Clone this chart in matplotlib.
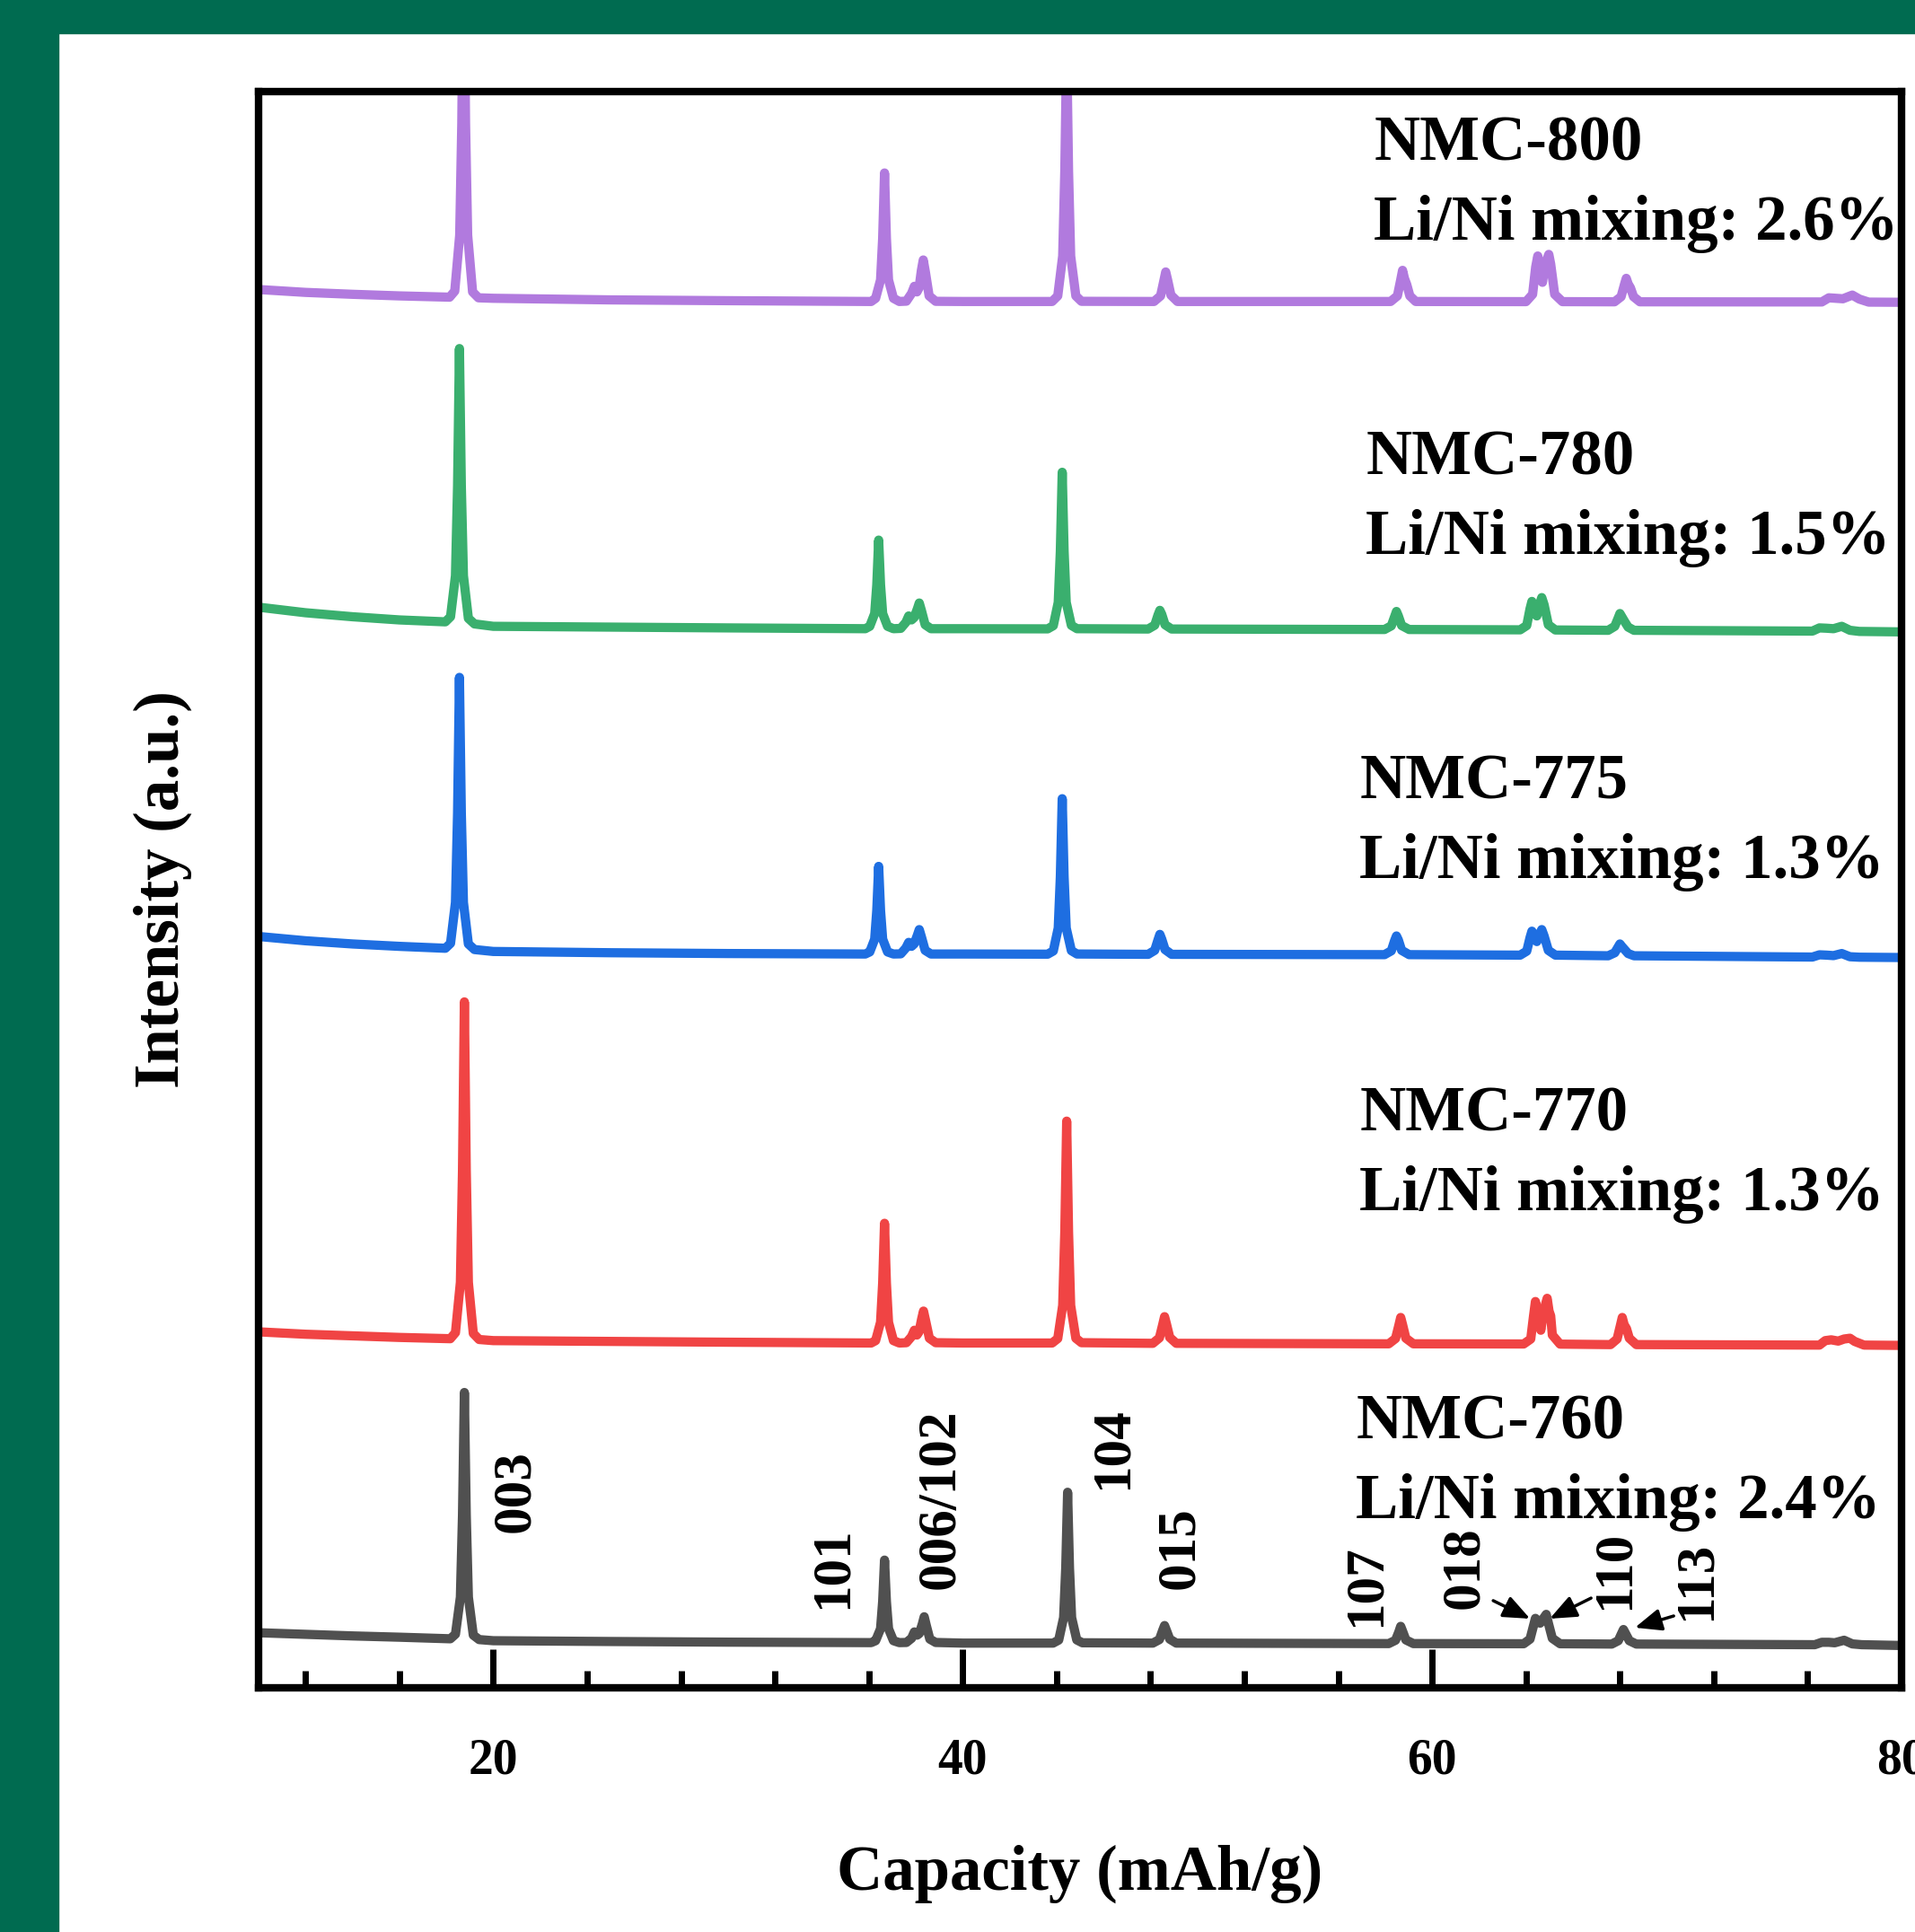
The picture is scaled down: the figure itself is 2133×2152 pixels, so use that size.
import numpy as np
import matplotlib.pyplot as plt
from matplotlib.patches import Rectangle
from matplotlib.ticker import MultipleLocator

plt.rcParams['font.family'] = ['Liberation Serif', 'DejaVu Serif']
plt.rcParams['font.weight'] = 'bold'

# traces: (2theta, offset intensity in a.u.)
nmc760 = [(10.0, 3.45), (12.0, 3.35), (14.0, 3.25), (16.0, 3.17), (18.17, 3.07), (18.39, 3.36), (18.60, 5.68),
          (18.69, 10.8), (18.77, 18.5), (18.85, 10.8), (18.94, 5.68), (19.15, 3.30), (19.4, 3.02), (20.0, 2.95),
          (25.0, 2.9), (30.0, 2.86), (36.1, 2.83), (36.29, 2.95), (36.5, 3.7), (36.59, 5.4), (36.67, 8.0),
          (36.75, 5.4), (36.84, 3.7), (37.05, 2.95), (37.3, 2.83), (37.6, 2.84), (37.82, 3.1), (37.94, 3.5),
          (38.06, 3.3), (38.15, 3.4), (38.28, 4.0), (38.36, 4.45), (38.45, 3.9), (38.6, 3.05), (38.85, 2.84),
          (40.0, 2.8), (43.85, 2.8), (44.09, 2.99), (44.3, 4.4), (44.39, 7.5), (44.47, 12.25), (44.55, 7.5),
          (44.64, 4.4), (44.86, 3.0), (45.1, 2.82), (48.1, 2.8), (48.38, 3.02), (48.52, 3.6), (48.6, 3.9),
          (48.68, 3.6), (48.82, 3.05), (49.1, 2.8), (58.15, 2.77), (58.44, 2.98), (58.58, 3.5), (58.66, 3.85),
          (58.74, 3.55), (58.88, 3.0), (59.2, 2.77), (63.9, 2.76), (64.17, 3.05), (64.32, 3.9), (64.4, 4.35),
          (64.6, 4.05), (64.86, 4.6), (64.96, 4.0), (65.12, 3.1), (65.45, 2.76), (67.65, 2.74), (67.93, 2.95),
          (68.07, 3.4), (68.15, 3.65), (68.24, 3.4), (68.4, 2.95), (68.7, 2.74), (76.3, 2.7), (76.6, 2.85),
          (76.9, 2.85), (77.15, 2.82), (77.55, 2.98), (77.9, 2.75), (78.3, 2.7), (80.0, 2.65)]

nmc770 = [(10.0, 22.3), (12.0, 22.15), (14.0, 22.05), (16.0, 21.95), (18.17, 21.87), (18.39, 22.25), (18.60, 25.4),
          (18.69, 32.4), (18.77, 42.97), (18.85, 32.4), (18.94, 25.4), (19.15, 22.2), (19.4, 21.82), (20.0, 21.75),
          (25.0, 21.7), (30.0, 21.65), (36.1, 21.6), (36.29, 21.75), (36.5, 22.9), (36.59, 25.35), (36.67, 29.1),
          (36.75, 25.35), (36.84, 22.9), (37.05, 21.75), (37.3, 21.6), (37.6, 21.62), (37.82, 22.0), (37.94, 22.4),
          (38.05, 22.1), (38.14, 22.3), (38.25, 23.1), (38.33, 23.6), (38.42, 23.0), (38.58, 21.9), (38.85, 21.62),
          (40.0, 21.6), (43.81, 21.6), (44.05, 21.88), (44.26, 23.96), (44.35, 28.55), (44.43, 35.5), (44.51, 28.55),
          (44.6, 23.96), (44.82, 21.9), (45.06, 21.62), (48.1, 21.58), (48.38, 21.92), (48.52, 22.75), (48.6, 23.25),
          (48.68, 22.8), (48.82, 21.95), (49.1, 21.58), (58.15, 21.55), (58.44, 21.88), (58.58, 22.7), (58.66, 23.2),
          (58.74, 22.75), (58.88, 21.9), (59.2, 21.55), (63.9, 21.54), (64.2, 21.85), (64.32, 23.3), (64.4, 24.2),
          (64.5, 23.5), (64.63, 22.4), (64.75, 23.6), (64.9, 24.4), (64.98, 23.6), (65.05, 23.3), (65.12, 22.1),
          (65.45, 21.53), (67.6, 21.5), (67.88, 21.85), (68.02, 22.7), (68.1, 23.2), (68.18, 22.75), (68.28, 22.5),
          (68.4, 21.9), (68.7, 21.5), (76.5, 21.47), (76.75, 21.75), (77.0, 21.8), (77.3, 21.72), (77.55, 21.85),
          (77.8, 21.9), (78.0, 21.7), (78.4, 21.47), (80.0, 21.45)]

nmc775 = [(10.0, 47.07), (12.0, 46.8), (14.0, 46.6), (16.0, 46.45), (17.96, 46.33), (18.18, 46.64), (18.39, 49.2),
          (18.48, 54.8), (18.56, 63.3), (18.64, 54.8), (18.73, 49.2), (18.94, 46.6), (19.2, 46.25), (20.0, 46.13),
          (25.0, 46.05), (30.0, 46.0), (35.85, 45.97), (36.04, 46.1), (36.25, 46.9), (36.34, 48.7), (36.42, 51.46),
          (36.5, 48.7), (36.59, 46.9), (36.8, 46.1), (37.05, 45.97), (37.36, 45.98), (37.58, 46.35), (37.7, 46.7),
          (37.82, 46.45), (37.93, 46.6), (38.07, 47.15), (38.15, 47.5), (38.24, 47.05), (38.4, 46.2), (38.65, 45.97),
          (40.0, 45.97), (43.62, 45.96), (43.86, 46.16), (44.07, 47.6), (44.16, 50.8), (44.24, 55.7), (44.32, 50.8),
          (44.41, 47.6), (44.63, 46.18), (44.87, 45.97), (47.9, 45.95), (48.18, 46.2), (48.32, 46.85), (48.4, 47.2),
          (48.48, 46.9), (48.62, 46.25), (48.9, 45.95), (57.97, 45.93), (58.26, 46.17), (58.4, 46.8), (58.48, 47.1),
          (58.56, 46.85), (58.7, 46.2), (59.02, 45.93), (63.75, 45.9), (64.03, 46.15), (64.17, 47.0), (64.25, 47.4),
          (64.36, 47.1), (64.46, 46.75), (64.57, 47.2), (64.67, 47.5), (64.77, 47.1), (64.95, 46.2), (65.25, 45.9),
          (67.5, 45.86), (67.78, 46.05), (67.92, 46.4), (68.0, 46.6), (68.08, 46.45), (68.2, 46.25), (68.35, 46.0),
          (68.6, 45.86), (76.2, 45.78), (76.5, 45.92), (76.8, 45.9), (77.1, 45.87), (77.45, 46.0), (77.8, 45.8),
          (78.2, 45.77), (80.0, 45.75)]

nmc780 = [(10.0, 67.7), (12.0, 67.35), (14.0, 67.1), (16.0, 66.9), (17.96, 66.78), (18.18, 67.1), (18.39, 69.67),
          (18.48, 75.3), (18.56, 83.9), (18.64, 75.3), (18.73, 69.67), (18.94, 67.0), (19.2, 66.65), (20.0, 66.5),
          (25.0, 66.45), (30.0, 66.4), (35.85, 66.35), (36.04, 66.5), (36.25, 67.3), (36.34, 69.1), (36.42, 71.9),
          (36.5, 69.1), (36.59, 67.3), (36.8, 66.5), (37.05, 66.35), (37.36, 66.37), (37.58, 66.75), (37.7, 67.15),
          (37.82, 66.9), (37.93, 67.05), (38.07, 67.6), (38.15, 67.96), (38.24, 67.5), (38.4, 66.6), (38.65, 66.35),
          (40.0, 66.35), (43.62, 66.34), (43.86, 66.54), (44.07, 68.0), (44.16, 71.2), (44.24, 76.15), (44.32, 71.2),
          (44.41, 68.0), (44.63, 66.56), (44.87, 66.35), (47.9, 66.33), (48.18, 66.57), (48.32, 67.2), (48.4, 67.5),
          (48.48, 67.25), (48.62, 66.6), (48.9, 66.33), (57.97, 66.3), (58.26, 66.53), (58.4, 67.1), (58.48, 67.43),
          (58.56, 67.15), (58.7, 66.55), (59.02, 66.3), (63.75, 66.28), (64.03, 66.55), (64.17, 67.6), (64.25, 68.06),
          (64.36, 67.6), (64.46, 67.15), (64.57, 67.85), (64.67, 68.3), (64.77, 67.85), (64.95, 66.6), (65.25, 66.27),
          (67.5, 66.25), (67.78, 66.5), (67.92, 67.0), (68.0, 67.3), (68.08, 67.1), (68.2, 66.8), (68.35, 66.45),
          (68.6, 66.25), (76.2, 66.2), (76.5, 66.4), (76.8, 66.38), (77.1, 66.35), (77.45, 66.5), (77.8, 66.25),
          (78.2, 66.18), (80.0, 66.15)]

nmc800 = [(10.0, 87.6), (12.0, 87.42), (14.0, 87.3), (16.0, 87.2), (18.14, 87.12), (18.36, 87.5), (18.57, 91.0),
          (18.66, 98.0), (18.74, 110.0), (18.82, 98.0), (18.91, 91.0), (19.12, 87.45), (19.37, 87.08), (20.0, 87.05),
          (25.0, 86.95), (30.0, 86.9), (36.1, 86.85), (36.29, 87.05), (36.5, 88.2), (36.59, 90.8), (36.67, 94.9),
          (36.75, 90.8), (36.84, 88.2), (37.05, 87.05), (37.3, 86.85), (37.6, 86.87), (37.82, 87.35), (37.94, 87.8),
          (38.05, 87.45), (38.14, 87.7), (38.24, 88.8), (38.32, 89.45), (38.41, 88.7), (38.57, 87.2), (38.85, 86.86),
          (40.0, 86.85), (43.81, 86.85), (44.05, 87.2), (44.26, 89.7), (44.35, 95.0), (44.43, 103.0), (44.51, 95.0),
          (44.6, 89.7), (44.82, 87.2), (45.06, 86.86), (48.15, 86.85), (48.43, 87.2), (48.57, 88.15), (48.65, 88.7),
          (48.73, 88.2), (48.87, 87.25), (49.15, 86.85), (58.23, 86.85), (58.52, 87.2), (58.66, 88.2), (58.74, 88.8),
          (58.82, 88.3), (58.92, 87.9), (59.05, 87.2), (59.3, 86.85), (64.0, 86.84), (64.28, 87.3), (64.41, 89.0),
          (64.5, 89.7), (64.6, 89.0), (64.7, 88.05), (64.82, 89.2), (64.97, 89.8), (65.05, 89.2), (65.22, 87.3),
          (65.55, 86.84), (67.77, 86.83), (68.05, 87.15), (68.19, 87.9), (68.27, 88.3), (68.35, 87.95), (68.45, 87.7),
          (68.58, 87.15), (68.85, 86.83), (76.6, 86.82), (76.9, 87.08), (77.2, 87.05), (77.5, 87.02), (77.9, 87.25),
          (78.2, 87.0), (78.6, 86.81), (80.0, 86.8)]

samples = ['NMC-800', 'NMC-780', 'NMC-775', 'NMC-770', 'NMC-760']
mixing = ['2.6%', '1.5%', '1.3%', '1.3%', '2.4%']
traces = [nmc800, nmc780, nmc775, nmc770, nmc760]
colors = ['#b17ade', '#3aaf6e', '#1e6ee1', '#f04444', '#505050']
label_x = [57.52, 57.17, 56.9, 56.9, 56.75]
label_y = [96.7, 77.0, 56.7, 35.9, 16.6]

hkl = ['003', '101', '006/102', '104', '015', '107', '018', '110', '113']
hkl_x = [20.96, 34.46, 39.04, 46.39, 49.25, 57.17, 61.38, 67.8, 71.25]
hkl_y = [12.3, 7.55, 11.8, 15.0, 8.75, 6.4, 7.5, 7.4, 6.7]

# arrows (tail -> tip) for the small peaks
arrow_tail = [(62.6, 5.46), (66.77, 5.62), (70.29, 4.5)]
arrow_tip = [(64.17, 4.33), (65.01, 4.33), (68.64, 3.77)]

fig = plt.figure(figsize=(21.33, 21.52), dpi=100)
fig.patches.append(Rectangle((0, 0), 65 / 2133, 1, transform=fig.transFigure, color='#006b50', zorder=0))
fig.patches.append(Rectangle((0, 1 - 37 / 2152), 1, 37 / 2152, transform=fig.transFigure, color='#006b50', zorder=0))

ax = fig.add_axes([0.135, 0.1264, 0.858, 0.8262])

for pts, c in zip(traces, colors):
    arr = np.array(pts)
    ax.plot(arr[:, 0], arr[:, 1], color=c, lw=7.4, solid_joinstyle='round', solid_capstyle='round')

for i in range(len(samples)):
    ax.text(label_x[i], label_y[i], samples[i], fontsize=51, fontweight='bold', va='center', ha='left')
    ax.text(label_x[i], label_y[i] - 5.0, 'Li/Ni mixing: ' + mixing[i], fontsize=51, fontweight='bold',
            va='center', ha='left')

for t, x, y in zip(hkl, hkl_x, hkl_y):
    ax.text(x, y, t, fontsize=44, fontweight='bold', rotation=90, ha='center', va='center')

for tail, tip in zip(arrow_tail, arrow_tip):
    ax.annotate('', xy=tip, xytext=tail,
                arrowprops=dict(arrowstyle='-|>,head_length=0.6,head_width=0.25', mutation_scale=30,
                                lw=2.5, color='black', shrinkA=0, shrinkB=0))

ax.set_xlim(10, 80)
ax.set_ylim(0, 100)
ax.xaxis.set_major_locator(MultipleLocator(20))
ax.xaxis.set_minor_locator(MultipleLocator(4))
ax.tick_params(axis='x', which='major', direction='in', length=31, width=5, labelsize=40, pad=40, top=False)
ax.tick_params(axis='x', which='minor', direction='in', length=14, width=5, top=False)
ax.tick_params(axis='y', which='both', left=False, labelleft=False)
for lab in ax.get_xticklabels():
    lab.set_fontweight('bold')
for s in ax.spines.values():
    s.set_linewidth(6)

ax.set_xlabel('Capacity (mAh/g)', fontsize=51, fontweight='bold', labelpad=48)
ax.set_ylabel('Intensity (a.u.)', fontsize=51, fontweight='bold', labelpad=53)

fig.savefig('out.png', dpi=100)
